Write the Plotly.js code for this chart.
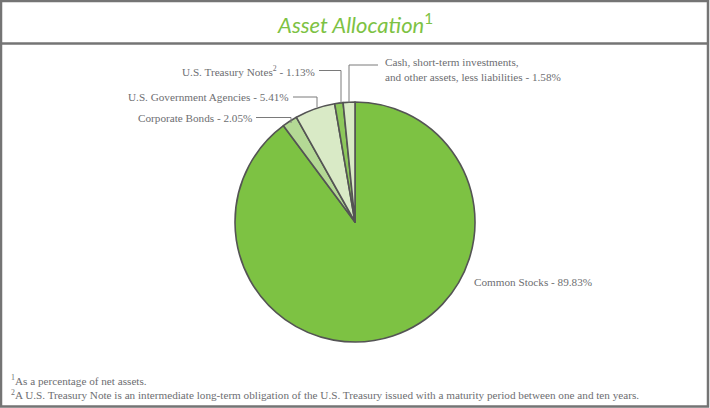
<!DOCTYPE html>
<html>
<head>
<meta charset="utf-8">
<script src="https://cdn.plot.ly/plotly-3.0.1.min.js"></script>
<style>html,body{margin:0;padding:0;background:#fff;}#chart{width:710px;height:408px;}</style>
</head>
<body>
<div id="chart"></div>
<script>
const labels = ["Common Stocks", "Corporate Bonds", "U.S. Government Agencies", "U.S. Treasury Notes", "Cash, short-term investments, and other assets, less liabilities"];
const values = [89.83, 2.05, 5.41, 1.13, 1.58];
const sliceColors = ["#7dc243", "#b4d995", "#d9eac6", "#8dc85b", "#d9eac6"];
const chartTitle = "Asset Allocation";
const footnotes = ["<sup>1</sup>As a percentage of net assets.", "<sup>2</sup>A U.S. Treasury Note is an intermediate long-term obligation of the U.S. Treasury issued with a maturity period between one and ten years."];

const W = 710, H = 408;
const px = x => x / W;
const py = y => 1 - y / H;
const serifFont = size => ({family: "Liberation Serif", size: size, color: "#6d6e71"});
const lineStyle = {color: "#7a7a7a", width: 1};

const fmt = v => v.toFixed(2) + "%";

const annotations = [
  {x: px(472), y: py(282), text: labels[0] + " - " + fmt(values[0]), xanchor: "left", font: serifFont(11.2)},
  {x: px(254), y: py(118), text: labels[1] + " - " + fmt(values[1]), xanchor: "right", font: serifFont(11.2)},
  {x: px(291), y: py(97), text: labels[2] + " - " + fmt(values[2]), xanchor: "right", font: serifFont(11.2)},
  {x: px(317), y: py(71), text: labels[3] + "<sup>2</sup> - " + fmt(values[3]), xanchor: "right", font: serifFont(11.2)},
  {x: px(383), y: py(69), text: "Cash, short-term investments,<br>and other assets, less liabilities - " + fmt(values[4]), xanchor: "left", align: "left", font: serifFont(11.2)},
  {x: px(9), y: py(387), text: footnotes[0] + "<br>" + footnotes[1], xanchor: "left", align: "left", font: serifFont(11.2)},
  {x: 0.5, y: py(23), text: "<i>" + chartTitle + "</i><sup>1</sup>", xanchor: "center", font: {family: "Lato", size: 22, color: "#7dc243"}}
].map(a => Object.assign({xref: "paper", yref: "paper", yanchor: "middle", showarrow: false}, a));

function seg(x0, y0, x1, y1, l) {
  return {type: "line", xref: "paper", yref: "paper", x0: px(x0), y0: py(y0), x1: px(x1), y1: py(y1), line: l || lineStyle};
}

const shapes = [
  seg(256, 117.5, 291, 117.5), seg(291, 117.5, 291, 123),
  seg(293, 97, 317, 97), seg(317, 97, 317, 107),
  seg(319, 70.5, 341, 70.5), seg(341, 70.5, 341, 103),
  seg(349, 65, 378, 65), seg(349, 65, 349, 102.5),
  {type: "rect", xref: "paper", yref: "paper", x0: px(1), y0: py(1), x1: px(708), y1: py(406.5), line: {color: "#747474", width: 2.5}},
  seg(1, 43.5, 708, 43.5, {color: "#747474", width: 2.5})
];

const data = [{
  type: "pie",
  labels: labels,
  values: values,
  sort: false,
  direction: "clockwise",
  rotation: 0,
  textinfo: "none",
  hoverinfo: "label+percent",
  marker: {colors: sliceColors, line: {color: "#545454", width: 1.6}},
  domain: {x: [px(235), px(475)], y: [py(342), py(102)]},
  showlegend: false
}];

const layout = {
  width: W, height: H,
  margin: {l: 0, r: 0, t: 0, b: 0},
  paper_bgcolor: "#ffffff",
  font: {family: "Liberation Serif"},
  annotations: annotations,
  shapes: shapes
};

Plotly.newPlot("chart", data, layout, {displayModeBar: false, staticPlot: true});
</script>
</body>
</html>
